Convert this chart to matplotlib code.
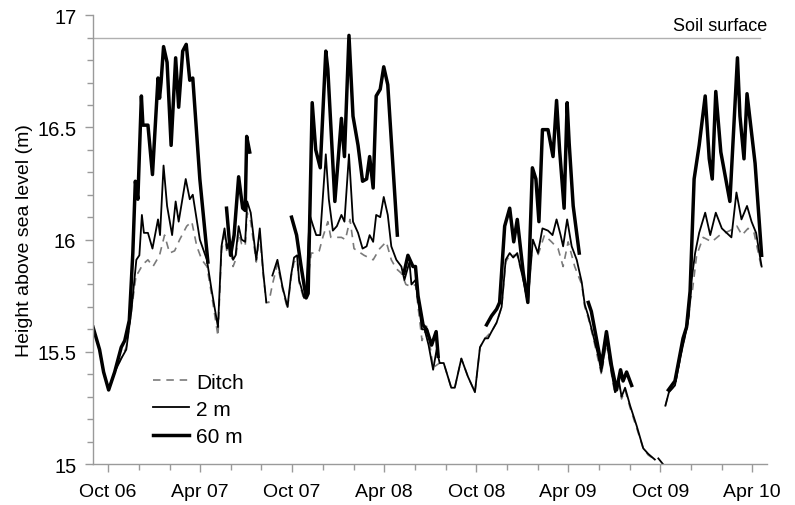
import matplotlib
matplotlib.use("Agg")
import matplotlib.pyplot as plt
import matplotlib.dates as mdates
import matplotlib.transforms as mtransforms
from matplotlib.ticker import MultipleLocator, FuncFormatter
import numpy as np
import pandas as pd

plt.rcParams["font.family"] = ["Liberation Sans", "DejaVu Sans"]

# groundwater levels (m above sea level); None marks a gap in the record
ditch = [
    ("2006-09-01", 15.61), ("2006-09-14", 15.51), ("2006-09-22", 15.41), ("2006-10-02", 15.33),
    ("2006-10-14", 15.41), ("2006-10-27", 15.47), ("2006-11-06", 15.52), ("2006-11-16", 15.68),
    ("2006-11-26", 15.85), ("2006-11-29", 15.85), ("2006-12-09", 15.89), ("2006-12-19", 15.91),
    ("2006-12-29", 15.88), ("2007-01-11", 15.93), ("2007-01-21", 16.02), ("2007-01-31", 15.94),
    ("2007-02-10", 15.95), ("2007-02-20", 16.00), ("2007-03-06", 16.06), ("2007-03-16", 16.08),
    ("2007-03-26", 15.97), ("2007-04-05", 15.91), ("2007-04-15", 15.88), ("2007-04-24", 15.76),
    ("2007-05-07", 15.57), ("2007-05-14", 15.95), ("2007-05-20", 16.02), ("2007-05-25", 15.94),
    ("2007-05-30", 15.98), ("2007-06-06", 15.88), ("2007-06-11", 15.91), ("2007-06-17", 16.03),
    ("2007-06-23", 15.98), ("2007-06-30", 15.97), ("2007-07-04", 16.12), ("2007-07-11", 16.08),
    ("2007-07-22", 15.90), ("2007-07-29", 16.02), ("2007-08-05", 15.84), ("2007-08-11", 15.72),
    ("2007-08-16", 15.72), ("2007-08-23", 15.80), ("2007-09-02", 15.89), ("2007-09-12", 15.78),
    ("2007-09-22", 15.69), ("2007-09-29", 15.83), ("2007-10-05", 15.90), ("2007-10-11", 15.91),
    ("2007-10-15", 15.81), ("2007-10-25", 15.73), ("2007-10-29", 15.76), ("2007-11-08", 15.94),
    ("2007-11-17", 15.94), ("2007-11-24", 15.95), ("2007-12-01", 16.01), ("2007-12-11", 16.08),
    ("2007-12-17", 16.01), ("2008-01-07", 16.01), ("2008-01-15", 16.00), ("2008-01-24", 16.09),
    ("2008-02-01", 15.96), ("2008-02-21", 15.93), ("2008-03-10", 15.91), ("2008-03-23", 15.96),
    ("2008-04-05", 15.99), ("2008-04-15", 15.91), ("2008-04-25", 15.87), ("2008-05-05", 15.85),
    ("2008-05-14", 15.80), ("2008-05-25", 15.79), ("2008-06-02", 15.80), ("2008-06-15", 15.55),
    ("2008-06-25", 15.62), ("2008-07-07", 15.43), ("2008-07-20", 15.45), ("2008-07-28", 15.45),
    ("2008-08-12", 15.34), ("2008-08-19", 15.34), ("2008-09-01", 15.47), ("2008-09-14", 15.39),
    ("2008-09-28", 15.32), ("2008-10-08", 15.52), ("2008-10-18", 15.56), ("2008-10-31", 15.59),
    ("2008-11-10", 15.63), ("2008-11-20", 15.70), ("2008-11-28", 15.90), ("2008-12-06", 15.93),
    ("2008-12-13", 15.93), ("2008-12-21", 15.93), ("2009-01-02", 15.82), ("2009-01-11", 15.72),
    ("2009-01-18", 15.93), ("2009-01-31", 15.93), ("2009-02-13", 16.02), ("2009-02-27", 15.99),
    ("2009-03-12", 15.96), ("2009-03-22", 15.88), ("2009-04-01", 15.99), ("2009-04-14", 15.88),
    ("2009-04-28", 15.80), ("2009-05-04", 15.70), ("2009-05-11", 15.65), ("2009-05-21", 15.56),
    ("2009-05-31", 15.46), ("2009-06-06", 15.40), ("2009-06-16", 15.54), ("2009-06-23", 15.44),
    ("2009-07-03", 15.31), ("2009-07-10", 15.37), ("2009-07-16", 15.29), ("2009-07-23", 15.33),
    ("2009-08-02", 15.25), ("2009-08-15", 15.16), ("2009-08-28", 15.07), ("2009-09-07", 15.04),
    ("2009-09-20", 15.02), ("2009-10-01", None),
    ("2009-10-11", 15.26), ("2009-10-18", 15.32), ("2009-10-30", 15.35), ("2009-11-12", 15.50),
    ("2009-11-19", 15.57), ("2009-11-26", 15.64), ("2009-11-29", 15.72), ("2009-12-04", 15.78),
    ("2009-12-12", 15.93), ("2009-12-25", 16.01), ("2010-01-11", 15.99), ("2010-01-27", 16.02),
    ("2010-02-16", 16.04), ("2010-03-02", 16.06), ("2010-03-12", 16.02), ("2010-03-24", 16.05),
    ("2010-04-05", 16.03), ("2010-04-21", 15.86),
]

well_2m = [
    ("2006-09-01", 15.61), ("2006-09-14", 15.51), ("2006-09-22", 15.41), ("2006-10-02", 15.33),
    ("2006-10-14", 15.41), ("2006-10-27", 15.47), ("2006-11-06", 15.51), ("2006-11-16", 15.68),
    ("2006-11-26", 15.91), ("2006-12-02", 15.93), ("2006-12-07", 16.11), ("2006-12-11", 16.03),
    ("2006-12-19", 16.03), ("2006-12-28", 15.96), ("2007-01-08", 16.09), ("2007-01-12", 16.02),
    ("2007-01-19", 16.33), ("2007-01-26", 16.15), ("2007-02-05", 16.02), ("2007-02-12", 16.17),
    ("2007-02-18", 16.08), ("2007-03-04", 16.27), ("2007-03-12", 16.18), ("2007-03-18", 16.20),
    ("2007-04-01", 16.00), ("2007-04-15", 15.91), ("2007-04-24", 15.78), ("2007-05-07", 15.61),
    ("2007-05-14", 15.97), ("2007-05-20", 16.05), ("2007-05-25", 15.96), ("2007-05-30", 16.00),
    ("2007-06-06", 15.91), ("2007-06-11", 15.93), ("2007-06-17", 16.06), ("2007-06-23", 16.00),
    ("2007-06-30", 15.99), ("2007-07-04", 16.17), ("2007-07-11", 16.12), ("2007-07-22", 15.91),
    ("2007-07-29", 16.05), ("2007-08-05", 15.85), ("2007-08-11", 15.72), ("2007-08-17", None),
    ("2007-08-23", 15.84), ("2007-09-02", 15.91), ("2007-09-12", 15.79), ("2007-09-22", 15.70),
    ("2007-09-29", 15.84), ("2007-10-05", 15.92), ("2007-10-11", 15.93), ("2007-10-15", 15.82),
    ("2007-10-25", 15.74), ("2007-10-29", 15.76), ("2007-11-05", 16.11), ("2007-11-12", 16.06),
    ("2007-11-18", 16.02), ("2007-11-26", 16.02), ("2007-12-07", 16.38), ("2007-12-13", 16.18),
    ("2007-12-21", 16.04), ("2007-12-29", 16.06), ("2008-01-07", 16.11), ("2008-01-13", 16.08),
    ("2008-01-22", 16.38), ("2008-01-30", 16.08), ("2008-02-09", 16.03), ("2008-02-18", 15.96),
    ("2008-02-26", 15.97), ("2008-03-03", 16.02), ("2008-03-10", 15.99), ("2008-03-16", 16.11),
    ("2008-03-24", 16.10), ("2008-03-31", 16.19), ("2008-04-08", 16.11), ("2008-04-15", 15.97),
    ("2008-04-25", 15.91), ("2008-05-05", 15.88), ("2008-05-11", 15.82), ("2008-05-21", 15.90),
    ("2008-05-25", 15.80), ("2008-06-02", 15.82), ("2008-06-15", 15.60), ("2008-06-20", 15.60),
    ("2008-06-28", 15.53), ("2008-07-07", 15.42), ("2008-07-14", 15.51), ("2008-07-20", 15.45),
    ("2008-07-28", 15.45), ("2008-08-12", 15.34), ("2008-08-19", 15.34), ("2008-09-01", 15.47),
    ("2008-09-14", 15.39), ("2008-09-28", 15.32), ("2008-10-08", 15.52), ("2008-10-18", 15.56),
    ("2008-10-24", 15.56), ("2008-10-31", 15.59), ("2008-11-10", 15.63), ("2008-11-20", 15.70),
    ("2008-11-28", 15.91), ("2008-12-06", 15.94), ("2008-12-13", 15.92), ("2008-12-21", 15.94),
    ("2009-01-02", 15.82), ("2009-01-11", 15.72), ("2009-01-21", 16.00), ("2009-01-31", 15.94),
    ("2009-02-09", 16.05), ("2009-02-20", 16.04), ("2009-03-01", 16.02), ("2009-03-09", 16.09),
    ("2009-03-17", 16.02), ("2009-03-22", 15.97), ("2009-03-30", 16.09), ("2009-04-08", 15.97),
    ("2009-04-18", 15.91), ("2009-04-28", 15.81), ("2009-05-04", 15.71), ("2009-05-11", 15.66),
    ("2009-05-21", 15.57), ("2009-05-31", 15.48), ("2009-06-06", 15.41), ("2009-06-16", 15.56),
    ("2009-06-23", 15.45), ("2009-07-03", 15.32), ("2009-07-10", 15.38), ("2009-07-16", 15.30),
    ("2009-07-23", 15.34), ("2009-08-02", 15.26), ("2009-08-15", 15.17), ("2009-08-28", 15.07),
    ("2009-09-07", 15.045), ("2009-09-20", 15.02), ("2009-09-24", None),
    ("2009-09-27", 15.025), ("2009-10-06", 15.00), ("2009-10-08", None),
    ("2009-10-11", 15.26), ("2009-10-18", 15.32), ("2009-10-30", 15.35), ("2009-11-12", 15.50),
    ("2009-11-19", 15.57), ("2009-11-26", 15.65), ("2009-12-02", 15.82), ("2009-12-09", 15.94),
    ("2009-12-17", 16.03), ("2009-12-29", 16.12), ("2010-01-08", 16.02), ("2010-01-19", 16.12),
    ("2010-01-31", 16.05), ("2010-02-19", 16.01), ("2010-03-01", 16.21), ("2010-03-11", 16.09),
    ("2010-03-22", 16.15), ("2010-03-31", 16.08), ("2010-04-09", 16.03), ("2010-04-20", 15.88),
]

well_60m = [
    ("2006-09-01", 15.61), ("2006-09-14", 15.51), ("2006-09-22", 15.41), ("2006-10-02", 15.33),
    ("2006-10-14", 15.41), ("2006-10-27", 15.52), ("2006-11-03", 15.55), ("2006-11-12", 15.64),
    ("2006-11-19", 15.94), ("2006-11-24", 16.26), ("2006-11-29", 16.18), ("2006-12-06", 16.64),
    ("2006-12-09", 16.51), ("2006-12-19", 16.51), ("2006-12-28", 16.29), ("2007-01-08", 16.72),
    ("2007-01-11", 16.63), ("2007-01-14", 16.70), ("2007-01-19", 16.86), ("2007-01-26", 16.79),
    ("2007-02-03", 16.42), ("2007-02-12", 16.81), ("2007-02-18", 16.59), ("2007-02-26", 16.84),
    ("2007-03-05", 16.87), ("2007-03-12", 16.71), ("2007-03-18", 16.72), ("2007-04-01", 16.27),
    ("2007-04-17", 15.90), ("2007-05-01", None),
    ("2007-05-24", 16.14), ("2007-06-01", 15.93), ("2007-06-08", 16.02), ("2007-06-17", 16.28),
    ("2007-06-25", 16.14), ("2007-06-30", 16.13), ("2007-07-03", 16.46), ("2007-07-09", 16.39),
    ("2007-08-15", None),
    ("2007-09-30", 16.10), ("2007-10-10", 16.02), ("2007-10-19", 15.88), ("2007-10-29", 15.74),
    ("2007-11-02", 15.76), ("2007-11-10", 16.61), ("2007-11-17", 16.40), ("2007-11-26", 16.32),
    ("2007-12-07", 16.84), ("2007-12-11", 16.76), ("2007-12-25", 16.17), ("2008-01-07", 16.54),
    ("2008-01-13", 16.37), ("2008-01-22", 16.91), ("2008-01-30", 16.55), ("2008-02-09", 16.42),
    ("2008-02-18", 16.26), ("2008-02-26", 16.27), ("2008-03-03", 16.37), ("2008-03-10", 16.23),
    ("2008-03-16", 16.64), ("2008-03-24", 16.67), ("2008-03-31", 16.77), ("2008-04-08", 16.69),
    ("2008-04-27", 16.02), ("2008-05-03", None),
    ("2008-05-10", 15.85), ("2008-05-18", 15.93), ("2008-05-28", 15.88), ("2008-06-02", 15.88),
    ("2008-06-07", 15.75), ("2008-06-17", 15.62), ("2008-06-24", 15.60), ("2008-07-04", 15.53),
    ("2008-07-13", 15.59), ("2008-07-17", 15.48), ("2008-09-01", None),
    ("2008-10-21", 15.62), ("2008-10-31", 15.66), ("2008-11-10", 15.69), ("2008-11-16", 15.72),
    ("2008-11-26", 16.06), ("2008-12-06", 16.14), ("2008-12-14", 15.99), ("2008-12-21", 16.09),
    ("2009-01-02", 15.85), ("2009-01-11", 15.72), ("2009-01-20", 16.32), ("2009-01-27", 16.27),
    ("2009-02-02", 16.08), ("2009-02-09", 16.49), ("2009-02-20", 16.49), ("2009-03-02", 16.37),
    ("2009-03-09", 16.62), ("2009-03-15", 16.40), ("2009-03-24", 16.14), ("2009-03-30", 16.61),
    ("2009-04-03", 16.43), ("2009-04-11", 16.15), ("2009-04-23", 15.94), ("2009-05-01", None),
    ("2009-05-11", 15.72), ("2009-05-17", 15.68), ("2009-05-27", 15.56), ("2009-06-06", 15.44),
    ("2009-06-16", 15.59), ("2009-06-26", 15.44), ("2009-07-06", 15.33), ("2009-07-14", 15.42),
    ("2009-07-19", 15.37), ("2009-07-26", 15.41), ("2009-08-05", 15.35), ("2009-09-15", None),
    ("2009-10-17", 15.33), ("2009-10-30", 15.37), ("2009-11-15", 15.56), ("2009-11-22", 15.61),
    ("2009-11-29", 15.77), ("2009-12-07", 16.27), ("2009-12-17", 16.42), ("2009-12-29", 16.64),
    ("2010-01-06", 16.36), ("2010-01-12", 16.27), ("2010-01-19", 16.66), ("2010-01-29", 16.39),
    ("2010-02-16", 16.17), ("2010-03-03", 16.81), ("2010-03-08", 16.55), ("2010-03-16", 16.36),
    ("2010-03-22", 16.65), ("2010-04-07", 16.34), ("2010-04-20", 15.93),
]

soil_level = 16.9
x_start, x_end = "2006-09-01", "2010-05-01"


def as_series(pairs):
    dates = pd.to_datetime([d for d, _ in pairs])
    vals = np.array([np.nan if v is None else v for _, v in pairs], dtype=float)
    return dates, vals


fig = plt.figure(figsize=(7.95, 5.06), dpi=100)
ax = fig.add_axes([0.117, 0.081, 0.848, 0.887])

axis_grey = "#9a9a9a"

d, v = as_series(ditch)
ax.plot(d, v, color="#7a7a7a", lw=1.2, dashes=(4.5, 3.5), label="Ditch")
d, v = as_series(well_2m)
ax.plot(d, v, color="black", lw=1.3, label="2 m")
d, v = as_series(well_60m)
ax.plot(d, v, color="black", lw=2.5, label="60 m")

# soil surface reference
ax.axhline(soil_level, xmin=0, xmax=0.99, color="#b0b0b0", lw=1, zorder=0)
trans = mtransforms.blended_transform_factory(ax.transAxes, ax.transData)
ax.text(1.0, soil_level + 0.015, "Soil surface", transform=trans,
        ha="right", va="bottom", fontsize=13)

ax.set_xlim(pd.Timestamp(x_start), pd.Timestamp(x_end))
ax.set_ylim(15, 17)

ax.xaxis.set_major_locator(mdates.MonthLocator(bymonth=[4, 10]))
ax.xaxis.set_minor_locator(mdates.MonthLocator(bymonth=[2, 6, 8, 12]))
ax.xaxis.set_major_formatter(mdates.DateFormatter("%b %y"))
ax.yaxis.set_major_locator(MultipleLocator(0.5))
ax.yaxis.set_minor_locator(MultipleLocator(0.1))
ax.yaxis.set_major_formatter(FuncFormatter(lambda y, _: "%g" % y))

for side in ["top", "right"]:
    ax.spines[side].set_visible(False)
for side in ["left", "bottom"]:
    ax.spines[side].set_color(axis_grey)
    ax.spines[side].set_linewidth(1)

ax.tick_params(which="both", direction="out", color=axis_grey, width=1)
ax.tick_params(which="major", length=6, pad=6)
ax.tick_params(which="minor", length=4)
ax.tick_params(axis="x", labelsize=14, pad=8)
ax.tick_params(axis="y", labelsize=14.5)

ax.set_ylabel("Height above sea level (m)", fontsize=14, labelpad=3)

ax.legend(loc="lower left", bbox_to_anchor=(0.076, 0.022), frameon=False, fontsize=15,
          handlelength=1.75, handletextpad=0.35, labelspacing=0.39, borderaxespad=0)

fig.savefig("out.png", dpi=100)
